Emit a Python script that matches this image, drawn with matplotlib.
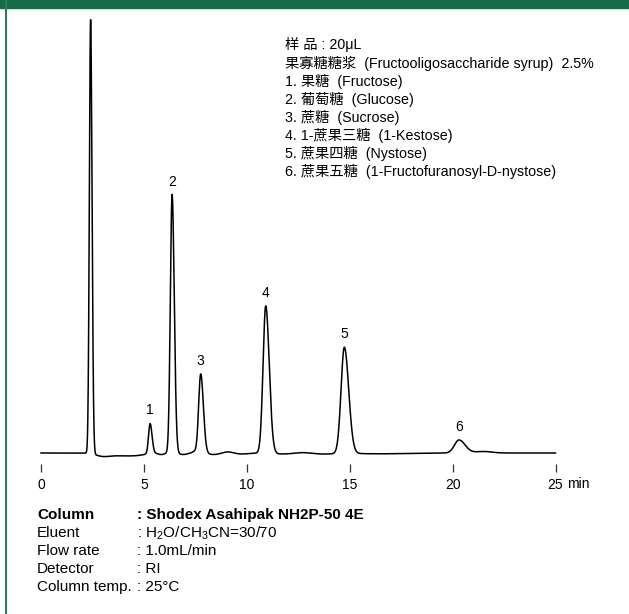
import numpy as np
import matplotlib
matplotlib.use("Agg")
import matplotlib.pyplot as plt
from matplotlib.patches import Rectangle
from matplotlib.lines import Line2D

plt.rcParams['font.family'] = ['Liberation Sans', 'Noto Sans CJK SC', 'DejaVu Sans']
plt.rcParams['mathtext.fontset'] = 'custom'
plt.rcParams['mathtext.rm'] = 'Liberation Sans'
plt.rcParams['mathtext.it'] = 'Liberation Sans'
plt.rcParams['mathtext.bf'] = 'Liberation Sans:bold'

# ---- data -------------------------------------------------------------
# solvent / injection peak
solvent_time = 2.41
solvent_height = 433.0
solvent_sigma = (0.06, 0.07)

# numbered sugar peaks: retention time (min), height (signal units)
peak_labels = ['1', '2', '3', '4', '5', '6']
peak_times = [5.30, 6.37, 7.76, 10.92, 14.74, 20.31]
peak_heights = [30.0, 258.0, 79.0, 147.0, 106.0, 13.0]
peak_sigma_left = [0.075, 0.085, 0.10, 0.13, 0.16, 0.22]
peak_sigma_right = [0.095, 0.105, 0.13, 0.17, 0.21, 0.30]

# small baseline disturbances: time, height, width
drift_times = [3.0, 3.9, 4.7, 5.85, 6.9, 7.45, 8.4, 9.1, 9.7, 11.8, 12.7, 13.7, 16.5, 21.5]
drift_heights = [-3.0, -2.5, -1.8, -1.5, -1.5, 1.5, -1.5, 1.5, -1.0, -1.0, 0.7, -1.0, -0.8, 1.5]
drift_widths = [0.35, 0.5, 0.4, 0.15, 0.2, 0.1, 0.3, 0.25, 0.4, 0.5, 0.4, 0.5, 1.2, 0.4]

x_ticks = [0, 5, 10, 15, 20, 25]

sample_lines = [
    "样 品 : 20μL",
    "果寡糖糖浆  (Fructooligosaccharide syrup)  2.5%",
    "1. 果糖  (Fructose)",
    "2. 葡萄糖  (Glucose)",
    "3. 蔗糖  (Sucrose)",
    "4. 1-蔗果三糖  (1-Kestose)",
    "5. 蔗果四糖  (Nystose)",
    "6. 蔗果五糖  (1-Fructofuranosyl-D-nystose)",
]

cond_names = ["Column", "Eluent", "Flow rate", "Detector", "Column temp."]
cond_values = [": Shodex Asahipak NH2P-50 4E", r": H$_2$O/CH$_3$CN=30/70",
               ": 1.0mL/min", ": RI", ": 25°C"]

# ---- trace ------------------------------------------------------------
t = np.linspace(0, 25, 5001)


def skew_peak(tt, t0, h, sl, sr):
    s = np.where(tt < t0, sl, sr)
    return h * np.exp(-0.5 * ((tt - t0) / s) ** 2)


signal = skew_peak(t, solvent_time, solvent_height, *solvent_sigma)
for t0, h, sl, sr in zip(peak_times, peak_heights, peak_sigma_left, peak_sigma_right):
    signal += skew_peak(t, t0, h, sl, sr)
for t0, h, w in zip(drift_times, drift_heights, drift_widths):
    signal += h * np.exp(-0.5 * ((t - t0) / w) ** 2)

# ---- figure -----------------------------------------------------------
W, H = 629, 614
fig = plt.figure(figsize=(W / 100, H / 100), dpi=100)


def fx(px):
    return px / W


def fy(py):
    return 1 - py / H


# header band and left rule
fig.patches.append(Rectangle((0, fy(8)), 1, 8 / H, transform=fig.transFigure,
                             color='#176b4b', zorder=0))
fig.lines.append(Line2D([fx(5.8), fx(5.8)], [0, 1], transform=fig.transFigure,
                        color='#2f7a5c', lw=1.5))

x0_px, x1_px = 41, 555.5
y0_px, y1_px = 453, 19
ax = fig.add_axes([fx(x0_px), fy(y0_px), (x1_px - x0_px) / W, (y0_px - y1_px) / H])
ax.set_xlim(0, 25)
ax.set_ylim(0, solvent_height)
ax.plot(t, signal, color='black', lw=1.1, clip_on=False, solid_joinstyle='round')

for s in ['top', 'right', 'left']:
    ax.spines[s].set_visible(False)
ax.spines['bottom'].set_position(('outward', 8))
ax.spines['bottom'].set_color('none')
ax.set_yticks([])
ax.set_xticks(x_ticks)
ax.set_xticklabels([str(v) for v in x_ticks])
ax.tick_params(axis='x', direction='out', length=6, width=0.9, color='#333333',
               pad=4, labelsize=10)

for lab, t0, h in zip(peak_labels, peak_times, peak_heights):
    ax.annotate(lab, (t0, h), xytext=(0, 4), textcoords='offset points',
                ha='center', va='bottom', fontsize=10)

fig.text(fx(567), fy(484), "min", fontsize=10, va='center', ha='left')

# sample description
for i, line in enumerate(sample_lines):
    fig.text(fx(285), fy(45 + 18 * i), line, fontsize=10.3, va='center', ha='left')

# analysis conditions
for i, (name, val) in enumerate(zip(cond_names, cond_values)):
    weight = 'bold' if i == 0 else 'normal'
    fig.text(fx(37), fy(515 + 18 * i), name, fontsize=11, va='center', ha='left',
             fontweight=weight)
    fig.text(fx(137), fy(515 + 18 * i), val, fontsize=11, va='center', ha='left',
             fontweight=weight)

fig.savefig("out.png", dpi=100)
